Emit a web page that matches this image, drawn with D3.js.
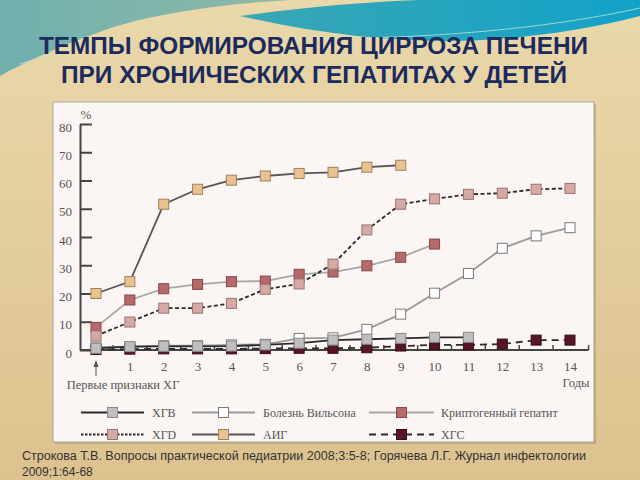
<!DOCTYPE html>
<html><head><meta charset="utf-8">
<script src="https://cdn.jsdelivr.net/npm/d3@7"></script>
<style>html,body{margin:0;padding:0;overflow:hidden;background:#e4cd9c}</style>
</head><body><svg id="c" width="640" height="480"></svg>
<script>
// ---- data ----
const titleLines = ["ТЕМПЫ ФОРМИРОВАНИЯ ЦИРРОЗА ПЕЧЕНИ", "ПРИ ХРОНИЧЕСКИХ ГЕПАТИТАХ У ДЕТЕЙ"];
const yTicks = [0, 10, 20, 30, 40, 50, 60, 70, 80];
const xTicks = [1, 2, 3, 4, 5, 6, 7, 8, 9, 10, 11, 12, 13, 14];
const seriesNames = ["ХГВ", "Болезнь Вильсона", "Криптогенный гепатит", "ХГD", "АИГ", "ХГС"];
const hgv    = [0.6, 1.2, 1.3, 1.3, 1.4, 1.8, 2.4, 3.5, 3.8, 4.1, 4.5, 4.5];
const wilson = [1.0, 1.2, 1.5, 1.5, 1.8, 2.0, 4.1, 4.3, 7.3, 12.7, 20.1, 27.1, 36.0, 40.4, 43.3];
const crypt  = [8.0, 17.7, 21.7, 23.2, 24.2, 24.4, 26.8, 27.6, 29.8, 32.8, 37.5];
const hgd    = [5.0, 9.9, 14.8, 14.8, 16.5, 21.5, 23.4, 30.4, 42.5, 51.6, 53.5, 55.1, 55.5, 56.9, 57.2];
const aig    = [20.0, 24.2, 51.6, 56.9, 60.1, 61.6, 62.5, 62.9, 64.7, 65.4];
const hgc    = [0.2, 0.3, 0.4, 0.4, 0.4, 0.5, 0.6, 0.6, 0.8, 1.4, 1.8, 1.8, 2.1, 3.5, 3.5];
const citation = ["Строкова Т.В. Вопросы практической педиатрии 2008;3:5-8; Горячева Л.Г. Журнал инфектологии", "2009;1:64-68"];

// ---- styles ----
const styles = {
  "ХГВ":                  {vals: hgv,    line: "#2a2a2a", dash: null,  fill: "#bfbfbf", stroke: "#8a8a8a", col: 0, row: 0},
  "Болезнь Вильсона":     {vals: wilson, line: "#9a9a9a", dash: null,  fill: "#ffffff", stroke: "#7a7a7a", col: 1, row: 0},
  "Криптогенный гепатит": {vals: crypt,  line: "#a8a8a8", dash: null,  fill: "#b5696a", stroke: "#8a4848", col: 2, row: 0},
  "ХГD":                  {vals: hgd,    line: "#2a2a2a", dash: "4,2.5", fill: "#d6a9a4", stroke: "#9c7470", col: 0, row: 1, legDash: "2.5,1.5"},
  "АИГ":                  {vals: aig,    line: "#555555", dash: null,  fill: "#ebc28f", stroke: "#a2815c", col: 1, row: 1},
  "ХГС":                  {vals: hgc,    line: "#2a2a2a", dash: "7,5", fill: "#581528", stroke: "#3a0a18", col: 2, row: 1}
};
const drawOrder = ["Болезнь Вильсона", "ХГС", "ХГВ", "Криптогенный гепатит", "ХГD", "АИГ"];

const svg = d3.select("#c");
const defs = svg.append("defs");

// background
const bg = defs.append("linearGradient").attr("id", "bg").attr("x1", 0).attr("y1", 0).attr("x2", 0).attr("y2", 1);
bg.append("stop").attr("offset", "0%").attr("stop-color", "#ead8aa");
bg.append("stop").attr("offset", "100%").attr("stop-color", "#dcc28e");
svg.append("rect").attr("width", 640).attr("height", 480).attr("fill", "url(#bg)");
const tl = defs.append("linearGradient").attr("id", "tl").attr("x1", 0).attr("y1", 0).attr("x2", 1).attr("y2", 0);
tl.append("stop").attr("offset", "0%").attr("stop-color", "#6fb0ad");
tl.append("stop").attr("offset", "100%").attr("stop-color", "#8fb9a8");
const tr = defs.append("linearGradient").attr("id", "tr").attr("x1", 0).attr("y1", 0).attr("x2", 1).attr("y2", 0);
tr.append("stop").attr("offset", "0%").attr("stop-color", "#3aa7b4");
tr.append("stop").attr("offset", "100%").attr("stop-color", "#12a2c8");
svg.append("path").attr("fill", "url(#tl)")
  .attr("d", "M0,0 H290 C220,4 150,14 105,30 C65,44 25,62 0,76 Z");
svg.append("path").attr("fill", "url(#tr)")
  .attr("d", "M240,16 C300,8 360,2 420,0 H640 V16 C580,32 500,42 440,41 C380,40 320,34 240,16 Z");
svg.append("path").attr("fill", "none").attr("stroke", "#bfe3d6").attr("stroke-width", 1).attr("opacity", 0.8)
  .attr("d", "M20,64 C120,30 260,40 360,38 C460,36 560,26 640,8");

// title
svg.append("g").selectAll("text").data(titleLines).join("text")
  .attr("x", (d, i) => i === 0 ? 313.5 : 314)
  .attr("y", (d, i) => i === 0 ? 54 : 83)
  .attr("text-anchor", "middle")
  .attr("textLength", (d, i) => i === 0 ? 549 : 506)
  .attr("lengthAdjust", "spacingAndGlyphs")
  .attr("font-family", "'Liberation Sans', Arial, sans-serif")
  .attr("font-weight", "bold").attr("font-size", 23).attr("fill", "#1c2a5e")
  .text(d => d);

// panel
svg.append("rect").attr("x", 55).attr("y", 104).attr("width", 541).attr("height", 340).attr("fill", "#8a7a5a").attr("opacity", 0.35);
svg.append("rect").attr("x", 53).attr("y", 102).attr("width", 541).attr("height", 340)
  .attr("fill", "#fbf6f3").attr("stroke", "#a9a59a").attr("stroke-width", 1);

// scales
const x = d3.scaleLinear().domain([0, 14]).range([96, 570]);
const y = d3.scaleLinear().domain([0, 80]).range([350, 124]);
const axisX = x(0) - 16;
const serif = "'Liberation Serif', 'DejaVu Serif', serif";

// y axis
const ya = svg.append("g").attr("transform", `translate(${axisX},0)`)
  .call(d3.axisLeft(y).tickValues(yTicks).tickSizeInner(-12).tickSizeOuter(0).tickPadding(8));
ya.select(".domain").attr("stroke", "#444").attr("stroke-width", 2);
ya.selectAll(".tick line").attr("stroke", "#444").attr("stroke-width", 2);
ya.selectAll(".tick text").attr("font-family", serif).attr("font-size", 13).attr("fill", "#555").attr("dy", "0.55em");
svg.append("text").attr("x", axisX + 6).attr("y", 119).attr("text-anchor", "middle")
  .attr("font-family", serif).attr("font-size", 13).attr("fill", "#555").text("%");

// x axis
svg.append("line").attr("x1", axisX).attr("x2", x(14.55)).attr("y1", y(0)).attr("y2", y(0))
  .attr("stroke", "#444").attr("stroke-width", 2);
svg.append("g").selectAll("line").data(d3.range(0, 14)).join("line")
  .attr("x1", d => x(d + 0.5)).attr("x2", d => x(d + 0.5))
  .attr("y1", y(0)).attr("y2", y(0) - 5).attr("stroke", "#444").attr("stroke-width", 1.5);
svg.append("line").attr("x1", x(14.55)).attr("x2", x(14.55)).attr("y1", y(0)).attr("y2", y(0) - 5)
  .attr("stroke", "#444").attr("stroke-width", 1.5);
const xa = svg.append("g").attr("transform", `translate(0,${y(0)})`)
  .call(d3.axisBottom(x).tickValues(xTicks).tickSize(0).tickPadding(12));
xa.select(".domain").remove();
xa.selectAll(".tick text").attr("font-family", serif).attr("font-size", 13).attr("fill", "#555");
svg.append("text").attr("x", 576).attr("y", 387).attr("text-anchor", "middle")
  .attr("font-family", serif).attr("font-size", 12.5).attr("fill", "#555").text("Годы");
svg.append("text").attr("x", 123).attr("y", 389).attr("text-anchor", "middle")
  .attr("font-family", serif).attr("font-size", 12.5).attr("fill", "#555").text("Первые признаки ХГ");
// arrow
svg.append("line").attr("x1", x(0)).attr("x2", x(0)).attr("y1", 376).attr("y2", 362)
  .attr("stroke", "#555").attr("stroke-width", 1);
svg.append("path").attr("d", `M${x(0)-2.5},${367} L${x(0)},${360} L${x(0)+2.5},${367} Z`).attr("fill", "#555");

// series
const line = d3.line().x((d, i) => x(i)).y(d => y(d));
const ms = 10;
drawOrder.forEach(name => {
  const s = styles[name];
  const g = svg.append("g");
  g.append("path").attr("d", line(s.vals)).attr("fill", "none")
    .attr("stroke", s.line).attr("stroke-width", 1.8)
    .attr("stroke-dasharray", s.dash);
  g.selectAll("rect").data(s.vals).join("rect")
    .attr("x", (d, i) => x(i) - ms / 2).attr("y", d => y(d) - ms / 2)
    .attr("width", ms).attr("height", ms)
    .attr("fill", s.fill).attr("stroke", s.stroke).attr("stroke-width", 1);
});

// legend
const legCols = [81, 192, 369];
const legLen = [63, 63, 65];
const legTextX = [152, 263, 441];
const legRows = [412.5, 434.5];
const lg = svg.append("g");
seriesNames.forEach(name => {
  const s = styles[name];
  const lx = legCols[s.col], ly = legRows[s.row];
  lg.append("line").attr("x1", lx).attr("x2", lx + legLen[s.col]).attr("y1", ly).attr("y2", ly)
    .attr("stroke", s.line).attr("stroke-width", 1.8).attr("stroke-dasharray", s.legDash || s.dash);
  lg.append("rect").attr("x", lx + legLen[s.col] / 2 - ms / 2).attr("y", ly - ms / 2)
    .attr("width", ms).attr("height", ms).attr("fill", s.fill).attr("stroke", s.stroke);
  lg.append("text").attr("x", legTextX[s.col]).attr("y", ly + 4.5)
    .attr("font-family", serif).attr("font-size", 12).attr("fill", "#555").text(name);
});

// citation
svg.append("g").selectAll("text").data(citation).join("text")
  .attr("x", 22).attr("y", (d, i) => 460 + i * 16)
  .attr("textLength", (d, i) => i === 0 ? 564 : null)
  .attr("lengthAdjust", "spacingAndGlyphs")
  .attr("font-family", "'Liberation Sans', Arial, sans-serif").attr("font-size", 12).attr("fill", "#333")
  .text(d => d);
</script></body></html>
